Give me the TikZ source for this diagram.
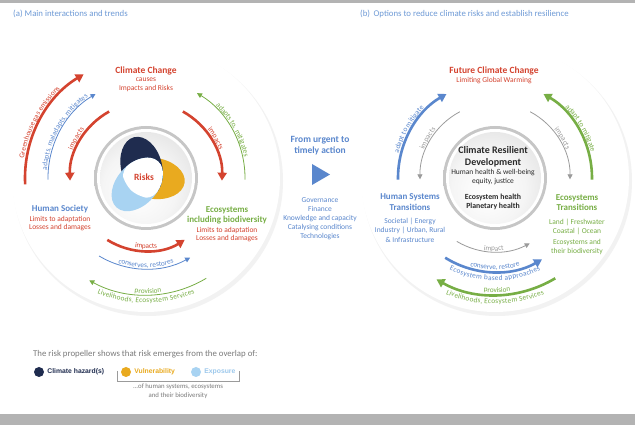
\documentclass[tikz,border=0pt]{standalone}
\usepackage{fontspec}
\setmainfont{Carlito}
\newfontfamily\legendfont{Liberation Sans}
\usetikzlibrary{arrows.meta, decorations.text, positioning}

\definecolor{ipccred}{HTML}{D4432F}
\definecolor{ipccblue}{HTML}{5A87CD}
\definecolor{titleblue}{HTML}{6E9AD6}
\definecolor{ipccgreen}{HTML}{77AE45}
\definecolor{risknavy}{HTML}{1F2C4F}
\definecolor{riskyellow}{HTML}{E9AA1F}
\definecolor{risklight}{HTML}{A8D3F2}
\definecolor{arcgray}{HTML}{9B9B9B}
\definecolor{bargray}{HTML}{B3B3B3}
\definecolor{notegray}{HTML}{7A7A7A}
\definecolor{darktext}{HTML}{2A2A2A}

\newcommand{\arcfont}{\fontsize{7.3}{8}\selectfont}

\pgfdeclareradialshading{diskfade}{\pgfpoint{0bp}{0bp}}{color(0bp)=(white); color(36bp)=(white); color(50bp)=(black!14)}
\pgfdeclareradialshading{rimfade}{\pgfpoint{0bp}{0bp}}{color(0bp)=(black!25); color(44bp)=(black!20); color(50bp)=(white)}
\pgfdeclareradialshading{hubfade}{\pgfpoint{-6bp}{-10bp}}{color(0bp)=(white); color(20bp)=(black!4); color(50bp)=(black!20)}

\tikzstyle{every node} = [inner sep=1pt, align=center]
\tikzstyle{heading} = [font=\bfseries\fontsize{9.5}{11}\selectfont]
\tikzstyle{sublabel} = [font=\fontsize{7.5}{8}\selectfont]
\tikzstyle{paneltitle} = [font=\fontsize{8.8}{10}\selectfont, text=titleblue, anchor=west]
\tikzstyle{thickarc} = [line width=2.6pt, ->, >={Triangle[length=8pt,width=9pt]}]
\tikzstyle{thinarc} = [line width=0.8pt, ->, >={Triangle[length=5pt,width=5pt]}]
\tikzstyle{dot} = [circle, minimum size=10pt, inner sep=0pt]
\tikzstyle{legend} = [font=\legendfont\bfseries\fontsize{6.8}{8}\selectfont, inner sep=0pt]
\tikzset{arctext/.style={decorate, decoration={text along path, text align=center, raise=#1}}}

\begin{document}
\begin{tikzpicture}[x=1pt, y=1pt]
    \useasboundingbox (0,0) rectangle (635,425);
    \fill[white] (0,0) rectangle (635,425);
    \fill[bargray] (0,422) rectangle (635,425);
    \fill[bargray] (0,0) rectangle (635,11);

    \coordinate (CL) at (146,247);
    \coordinate (CR) at (495,247);

    % the two discs
    \foreach \c in {CL, CR} {
        \fill[black!5] ([shift={(2,-3)}]\c) circle[radius=135];
        \shade[shading=diskfade] (\c) circle[radius=134];
        \shade[shading=rimfade] (\c) circle[radius=52];
        \fill[white] (\c) circle[radius=49];
        \shade[shading=hubfade] (\c) circle[radius=46];
    }

    \node[paneltitle] (ta) at (12,411) {(a) Main interactions and trends};
    \node[paneltitle] (tb) at (359,411) {(b)\, Options to reduce climate risks and establish resilience};

    % risk propeller
    \coordinate (P) at ([xshift=-2pt, yshift=1pt]CL);
    \foreach \ang/\col in {-8/riskyellow, 104/risknavy, 228/risklight}
        \fill[\col, shift={(P)}, rotate=\ang] (10,0) ellipse[x radius=31, y radius=20.5];
    \begin{scope}
        \clip[shift={(P)}, rotate=-8] (10,0) ellipse[x radius=31, y radius=20.5];
        \clip[shift={(P)}, rotate=104] (10,0) ellipse[x radius=31, y radius=20.5];
        \fill[white, shift={(P)}, rotate=228] (10,0) ellipse[x radius=31, y radius=20.5];
    \end{scope}
    \node[heading, text=ipccred] (risks) at (P) {Risks};

    % panel (a)
    \node[heading, text=ipccred] (cc) at (146,354) {Climate Change};
    \node[sublabel, text=ipccred, font=\fontsize{7.5}{9}\selectfont] (ccsub) at (146,340) {causes\\Impacts and Risks};
    \node[heading, text=ipccblue, font=\bfseries\fontsize{9}{10}\selectfont] (hs) at (60,216) {Human Society};
    \node[sublabel, text=ipccred] (hslim) at (60,201) {Limits to adaptation\\Losses and damages};
    \node[heading, text=ipccgreen, font=\bfseries\fontsize{9}{10}\selectfont] (eco) at (227,210) {Ecosystems\\including biodiversity};
    \node[sublabel, text=ipccred] (ecolim) at (227,190) {Limits to adaptation\\Losses and damages};

    \draw[thickarc, ipccred] ([shift={(183:121)}]CL) arc[start angle=183, end angle=121, radius=121];
    \path[arctext=2.5pt, decoration={text={|\arcfont\color{ipccred}|Greenhouse gas emissions}}] ([shift={(182:121)}]CL) arc[start angle=182, end angle=123, radius=121];
    \draw[thinarc, ipccblue] ([shift={(181:98)}]CL) arc[start angle=181, end angle=121, radius=98];
    \path[arctext=1.5pt, decoration={text={|\arcfont\color{ipccblue}|adapts, maladapts, mitigates}}] ([shift={(180:98)}]CL) arc[start angle=180, end angle=121, radius=98];
    \draw[thickarc, ipccred] ([shift={(119:76)}]CL) arc[start angle=119, end angle=182, radius=76];
    \path[arctext=2.5pt, decoration={text={|\arcfont\color{ipccred}|impacts}}] ([shift={(180:76)}]CL) arc[start angle=180, end angle=121, radius=76];
    \draw[thickarc, ipccred] ([shift={(61:76)}]CL) arc[start angle=61, end angle=-2, radius=76];
    \path[arctext=2.5pt, decoration={text={|\arcfont\color{ipccred}|impacts}}] ([shift={(59:76)}]CL) arc[start angle=59, end angle=0, radius=76];
    \draw[thinarc, ipccgreen] ([shift={(-1:99)}]CL) arc[start angle=-1, end angle=59, radius=99];
    \path[arctext=1.5pt, decoration={text={|\arcfont\color{ipccgreen}|adapts to, mitigates}}] ([shift={(59:99)}]CL) arc[start angle=59, end angle=-1, radius=99];

    \draw[thickarc, ipccred] ([shift={(238:73)}]CL) arc[start angle=238, end angle=302, radius=73];
    \path[arctext=2.5pt, decoration={text={|\arcfont\color{ipccred}|impacts}}] ([shift={(240:73)}]CL) arc[start angle=240, end angle=300, radius=73];
    \draw[thinarc, ipccblue] ([shift={(239:91)}]CL) arc[start angle=239, end angle=299, radius=91];
    \path[arctext=1.5pt, decoration={text={|\arcfont\color{ipccblue}|conserves, restores}}] ([shift={(240:91)}]CL) arc[start angle=240, end angle=300, radius=91];
    \draw[thinarc, ipccgreen] ([shift={(301:117)}]CL) arc[start angle=301, end angle=241, radius=117];
    \path[arctext=1.5pt, decoration={text={|\arcfont\color{ipccgreen}|provision}}] ([shift={(241:117)}]CL) arc[start angle=241, end angle=301, radius=117];
    \path[arctext=-8pt, decoration={text={|\arcfont\color{ipccgreen}|Livelihoods, Ecosystem Services}}] ([shift={(236:117)}]CL) arc[start angle=236, end angle=304, radius=117];

    % middle
    \node[heading, text=ipccblue] (urgent) at (320,279) {From urgent to\\timely action};
    \fill[ipccblue] (312,261) -- (312,240) -- (330,250.5) -- cycle;
    \node[sublabel, text=ipccblue, font=\fontsize{7.5}{9}\selectfont] (levers) at (320,206) {Governance\\Finance\\Knowledge and capacity\\Catalysing conditions\\Technologies};

    % panel (b)
    \node[heading, text=ipccred] (fcc) at (494,354) {Future Climate Change};
    \node[sublabel, text=ipccred] (fccsub) at (494,344) {Limiting Global Warming};
    \node[heading, text=darktext, font=\bfseries\fontsize{10}{12}\selectfont] (crd) at (493,268) {Climate Resilient\\Development};
    \node[sublabel, text=darktext, font=\fontsize{7.5}{9}\selectfont] (crdsub) at (493,247.5) {Human health \& well-being\\equity, justice};
    \node[sublabel, text=darktext, font=\bfseries\fontsize{7.8}{9}\selectfont] (crdeco) at (493,223.5) {Ecosystem health\\Planetary health};
    \node[heading, text=ipccblue, font=\bfseries\fontsize{9}{11}\selectfont] (hst) at (410,222.5) {Human Systems\\Transitions};
    \node[sublabel, text=ipccblue, font=\fontsize{7.5}{9.5}\selectfont] (hstlist) at (410,195) {Societal | Energy\\Industry | Urban, Rural\\\& Infrastructure};
    \node[heading, text=ipccgreen, font=\bfseries\fontsize{9}{10}\selectfont] (est) at (577,222) {Ecosystems\\Transitions};
    \node[sublabel, text=ipccgreen, font=\fontsize{7.5}{9}\selectfont] (estlist) at (577,198.5) {Land | Freshwater\\Coastal | Ocean};
    \node[sublabel, text=ipccgreen, font=\fontsize{7.5}{9}\selectfont] (estbio) at (577,177.5) {Ecosystems and\\their biodiversity};

    \draw[thickarc, ipccblue] ([shift={(181:97)}]CR) arc[start angle=181, end angle=120, radius=97];
    \path[arctext=2.5pt, decoration={text={|\arcfont\color{ipccblue}|adapt to mitigate}}] ([shift={(180:97)}]CR) arc[start angle=180, end angle=121, radius=97];
    \draw[thinarc, arcgray] ([shift={(118:75)}]CR) arc[start angle=118, end angle=181, radius=75];
    \path[arctext=1.5pt, decoration={text={|\arcfont\color{arcgray}|impacts}}] ([shift={(178:75)}]CR) arc[start angle=178, end angle=121, radius=75];
    \draw[thinarc, arcgray] ([shift={(62:75)}]CR) arc[start angle=62, end angle=-1, radius=75];
    \path[arctext=1.5pt, decoration={text={|\arcfont\color{arcgray}|impacts}}] ([shift={(59:75)}]CR) arc[start angle=59, end angle=2, radius=75];
    \draw[thickarc, ipccgreen] ([shift={(-1:97)}]CR) arc[start angle=-1, end angle=60, radius=97];
    \path[arctext=2.5pt, decoration={text={|\arcfont\color{ipccgreen}|adapt to mitigate}}] ([shift={(59:97)}]CR) arc[start angle=59, end angle=1, radius=97];

    \draw[thinarc, arcgray] ([shift={(239:74)}]CR) arc[start angle=239, end angle=298, radius=74];
    \path[arctext=1pt, decoration={text={|\arcfont\color{arcgray}|impact}}] ([shift={(240:74)}]CR) arc[start angle=240, end angle=298, radius=74];
    \draw[thickarc, ipccblue] ([shift={(238:94)}]CR) arc[start angle=238, end angle=300, radius=94];
    \path[arctext=2.5pt, decoration={text={|\arcfont\color{ipccblue}|conserve, restore}}] ([shift={(240:94)}]CR) arc[start angle=240, end angle=300, radius=94];
    \path[arctext=-8.5pt, decoration={text={|\arcfont\color{ipccblue}|Ecosystem based approaches}}] ([shift={(232:94)}]CR) arc[start angle=232, end angle=308, radius=94];
    \draw[thickarc, ipccgreen] ([shift={(301:117)}]CR) arc[start angle=301, end angle=240, radius=117];
    \path[arctext=2.5pt, decoration={text={|\arcfont\color{ipccgreen}|provision}}] ([shift={(241:117)}]CR) arc[start angle=241, end angle=301, radius=117];
    \path[arctext=-9pt, decoration={text={|\arcfont\color{ipccgreen}|Livelihoods, Ecosystem Services}}] ([shift={(236:117)}]CR) arc[start angle=236, end angle=304, radius=117];

    % legend
    \node[anchor=west, text=notegray, font=\fontsize{8.8}{10}\selectfont] (note) at (32,71) {The risk propeller shows that risk emerges from the overlap of:};
    \node[dot, fill=risknavy] (hz) at (39,53) {};
    \node[legend, text=risknavy, right=3pt of hz] (hzlab) {Climate hazard(s)};
    \node[dot, fill=riskyellow] (vu) at (126,53) {};
    \node[legend, text=riskyellow, right=3pt of vu] (vulab) {Vulnerability};
    \node[dot, fill=risklight] (ex) at (196,53) {};
    \node[legend, text=risklight!85!ipccblue, right=3pt of ex] (exlab) {Exposure};
    \coordinate (bl) at (117,54);
    \coordinate (br) at (239,54);
    \draw[arcgray, line width=0.6pt] (bl) |- ([yshift=-10pt]br.center) -- (br);
    \node[text=notegray, font=\fontsize{6.8}{9}\selectfont] (ofhuman) at (178,33.5) {...of human systems, ecosystems\\and their biodiversity};
\end{tikzpicture}
\end{document}
